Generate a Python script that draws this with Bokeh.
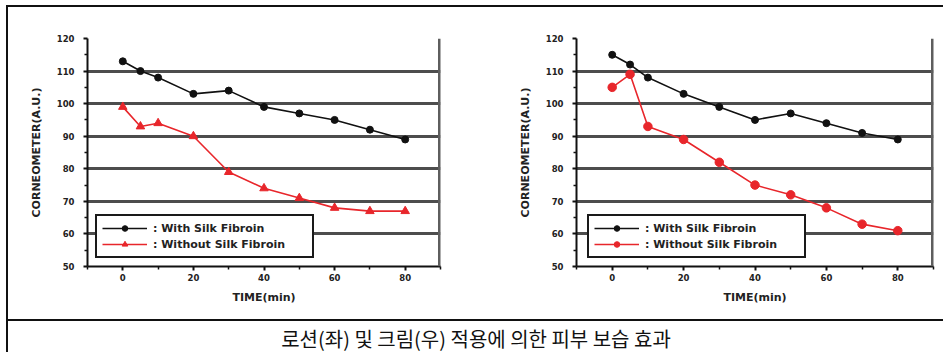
from bokeh.plotting import figure
from bokeh.models import Range1d, Legend, LegendItem, FixedTicker, Label, Span, Spacer
from bokeh.layouts import column, row
from bokeh.embed import file_html
from bokeh.resources import INLINE

# ---- data ----
time_min = [0, 5, 10, 20, 30, 40, 50, 60, 70, 80]
lotion_with = [113, 110, 108, 103, 104, 99, 97, 95, 92, 89]
lotion_without = [99, 93, 94, 90, 79, 74, 71, 68, 67, 67]
cream_with = [115, 112, 108, 103, 99, 95, 97, 94, 91, 89]
cream_without = [105, 109, 93, 89, 82, 75, 72, 68, 63, 61]
x_ticks = [0, 20, 40, 60, 80]
x_minor = [-10, 10, 30, 50, 70, 90]
y_ticks = [50, 60, 70, 80, 90, 100, 110, 120]
y_minor = [55, 65, 75, 85, 95, 105, 115]
series_labels = [": With Silk Fibroin", ": Without Silk Fibroin"]
x_label = "TIME(min)"
y_label = "CORNEOMETER(A.U.)"
caption = "로션(좌) 및 크림(우) 적용에 의한 피부 보습 효과"

FONT = "DejaVu Sans"
TXT = "#222222"
RED = "#e8262b"
BLK = "#111111"


def panel(width, bl, br, y_with, y_without, without_marker, leg_loc):
    p = figure(width=width, height=312, x_range=Range1d(-10, 90), y_range=Range1d(50, 120),
               output_backend="svg", toolbar_location=None,
               min_border_left=bl, min_border_right=br, min_border_top=31, min_border_bottom=53,
               background_fill_color="white", border_fill_color="white")
    p.outline_line_color = None
    p.xgrid.grid_line_color = None
    p.ygrid.grid_line_color = "#4d4d4d"
    p.ygrid.grid_line_width = 3
    p.xaxis.ticker = FixedTicker(ticks=x_ticks, minor_ticks=x_minor)
    p.yaxis.ticker = FixedTicker(ticks=y_ticks, minor_ticks=y_minor)
    for ax in (p.xaxis, p.yaxis):
        ax.axis_line_color = BLK
        ax.axis_line_width = 2
        ax.major_tick_line_color = BLK
        ax.major_tick_line_width = 2
        ax.minor_tick_line_color = BLK
        ax.minor_tick_line_width = 1.5
        ax.major_tick_in = 0
        ax.major_tick_out = 4
        ax.minor_tick_in = 0
        ax.minor_tick_out = 3
        ax.major_label_text_font = FONT
        ax.major_label_text_font_style = "bold"
        ax.major_label_text_font_size = "8.5px"
        ax.major_label_text_color = TXT
        ax.axis_label_text_font = FONT
        ax.axis_label_text_font_style = "bold"
        ax.axis_label_text_font_size = "11px"
        ax.axis_label_text_color = TXT
    p.xaxis.axis_label = x_label
    p.yaxis.axis_label = y_label
    p.xaxis.major_label_standoff = 3
    p.xaxis.axis_label_standoff = 7
    p.yaxis.major_label_standoff = 9
    p.yaxis.axis_label_standoff = 11

    p.add_layout(Span(location=90, dimension="height", line_color="#5e5e5e", line_width=5))

    l1 = p.line(time_min, y_with, line_color=BLK, line_width=1.6)
    m1 = p.scatter(time_min, y_with, marker="circle", size=7, color=BLK)
    l2 = p.line(time_min, y_without, line_color=RED, line_width=1.6)
    m2 = p.scatter(time_min, y_without, marker=without_marker, size=8.5, color=RED)

    leg = Legend(items=[LegendItem(label=series_labels[0], renderers=[l1, m1]),
                        LegendItem(label=series_labels[1], renderers=[l2, m2])],
                 location=leg_loc, orientation="vertical",
                 glyph_width=45, glyph_height=14, label_height=14, label_width=154,
                 label_standoff=6, padding=5, spacing=2, margin=0,
                 background_fill_color="white", background_fill_alpha=1,
                 border_line_color="#1a1a1a", border_line_width=2.5, border_line_alpha=1,
                 label_text_font=FONT, label_text_font_style="bold",
                 label_text_font_size="11px", label_text_color=TXT)
    p.add_layout(leg)
    return p


p1 = panel(462, 79, 30, lotion_with, lotion_without, "triangle", (8, 8))
p2 = panel(473, 106, 10, cream_with, cream_without, "circle", (11, 8))

p3 = figure(width=935, height=33, x_range=Range1d(0, 1), y_range=Range1d(0, 1),
            output_backend="svg", toolbar_location=None,
            min_border_left=0, min_border_right=0, min_border_top=0, min_border_bottom=0,
            styles={"border-top": "2px solid #111111"})
p3.axis.visible = False
p3.grid.visible = False
p3.outline_line_color = None
p3.add_layout(Label(x=0.5, y=0.5, text=caption, text_align="center", text_baseline="middle",
                    text_font="Noto Sans CJK KR", text_font_size="20px", text_color="#111111"))

framed = column(row(p1, p2), p3,
                styles={"border-left": "2px solid #111111", "border-top": "2px solid #111111"})
layout = column(Spacer(width=10, height=5), row(Spacer(width=6, height=10), framed))

open("out.html", "w").write(file_html(layout, INLINE))
